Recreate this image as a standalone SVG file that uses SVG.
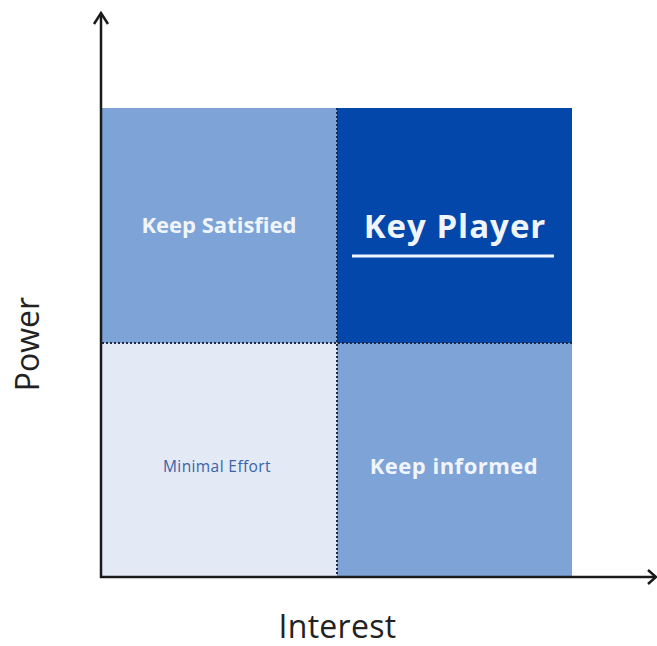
<svg xmlns="http://www.w3.org/2000/svg" width="657" height="646" viewBox="0 0 657 646">
<style>
.q{stroke:none}
.b{font-family:"Open Sans","Noto Sans",sans-serif;font-weight:bold;fill:#f0f5fc;text-anchor:middle}
.ax{stroke:#1a1a1a;stroke-width:2.5;fill:none}
.dot{stroke:#1e2a4a;stroke-width:2;stroke-dasharray:2 2;fill:none}
.lab{font-family:"Open Sans","Noto Sans",sans-serif;font-size:32px;fill:#222;text-anchor:middle}
</style>
<g id="q-keep-satisfied"><rect class="q" x="102" y="108" width="235" height="235" fill="#7ea3d6"/><text class="b" x="219" y="233" font-size="22">Keep Satisfied</text></g>
<g id="q-key-player"><rect class="q" x="337" y="108" width="235" height="235" fill="#0447aa"/><text class="b" x="455" y="238" font-size="33" letter-spacing="1">Key Player</text><line x1="352" y1="256" x2="554" y2="256" stroke="#f0f5fc" stroke-width="3"/></g>
<g id="q-minimal-effort"><rect class="q" x="102" y="343" width="235" height="235" fill="#e3eaf6"/><text x="217" y="472" font-family="Open Sans, Noto Sans, sans-serif" font-size="15.5" letter-spacing="0.4" fill="#3a63a8" text-anchor="middle">Minimal Effort</text></g>
<g id="q-keep-informed"><rect class="q" x="337" y="343" width="235" height="235" fill="#7ea3d6"/><text class="b" x="454" y="474" font-size="22" letter-spacing="0.5">Keep informed</text></g>
<g id="connectors">
<line class="dot" x1="102" y1="343" x2="572" y2="343"/>
<line class="dot" x1="337" y1="108" x2="337" y2="578"/>
<line class="ax" x1="101" y1="578" x2="101" y2="13"/>
<polyline class="ax" points="94,24 101,13 108,24"/>
<line class="ax" x1="100" y1="577" x2="656" y2="577"/>
<polyline class="ax" points="648,570 656,577 648,584"/>
</g>
<text class="lab" transform="translate(39 344) rotate(-90)">Power</text>
<text class="lab" x="337.5" y="638" letter-spacing="0.3">Interest</text>
</svg>
